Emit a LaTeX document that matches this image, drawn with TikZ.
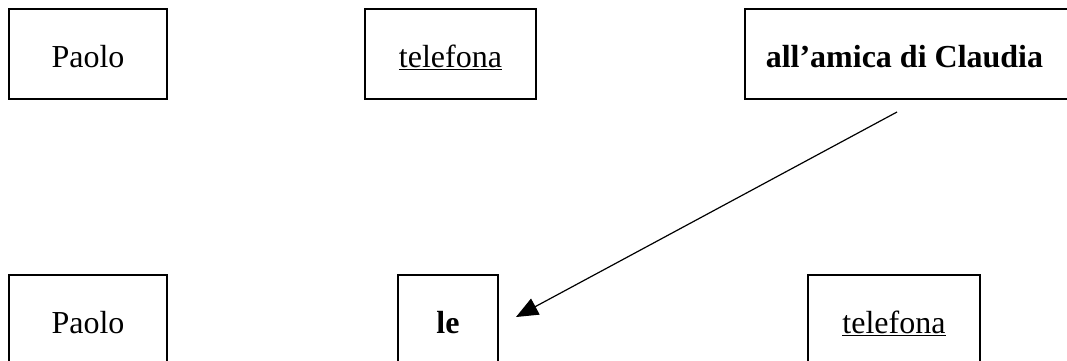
\documentclass[tikz,border=0pt]{standalone}
\usepackage{fontspec}
\setmainfont{Liberation Serif}
\usetikzlibrary{arrows.meta}
\tikzset{
  wordbox/.style={draw=black, line width=1.5pt, inner sep=0pt, minimum height=90pt,
    text height=26pt, text depth=0pt, font=\fontsize{32}{38}\selectfont},
  conn/.style={line width=1.2pt, -{Triangle[length=22pt,width=18pt]}}
}
\begin{document}
\begin{tikzpicture}[x=1pt,y=-1pt]
\useasboundingbox (0,0) rectangle (1067,360);
\clip (0,0) rectangle (1067,360);
% top row
\node[wordbox, minimum width=158pt] (p1) at (88,54) {Paolo};
\node[wordbox, minimum width=171pt] (t1) at (450.5,54) {\underline{telefona}};
\node[wordbox, anchor=west, inner xsep=21pt, text width=310pt, align=flush left] (a1) at (744,54) {\textbf{all’amica di Claudia}};
% bottom row
\node[wordbox, minimum width=158pt] (p2) at (88,320) {Paolo};
\node[wordbox, minimum width=100pt] (l2) at (448,320) {\textbf{le}};
\node[wordbox, minimum width=172pt] (t2) at (894,320) {\underline{telefona}};
% arrow
\coordinate (as) at (897,112);
\coordinate (ae) at (516,317);
\draw[conn] (as) -- (ae);
\end{tikzpicture}
\end{document}
